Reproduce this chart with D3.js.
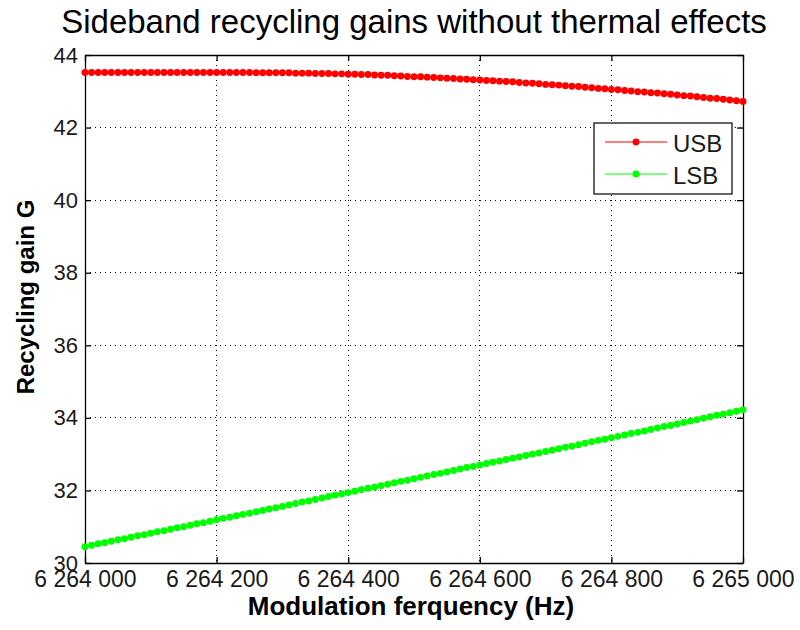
<!DOCTYPE html>
<html>
<head>
<meta charset="utf-8">
<script src="https://cdn.jsdelivr.net/npm/d3@7"></script>
<style>
  html, body { margin: 0; padding: 0; background: #fff; }
  svg { display: block; font-family: "Liberation Sans", Arial, Helvetica, sans-serif; }
</style>
</head>
<body>
<svg id="chart" width="800" height="630"></svg>
<script>
// Modulation frequency offsets (Hz above 6 264 000), 10 Hz steps
const freqBase = 6264000;
const freqStep = 10;

// Upper sideband recycling gain
const usbGain = [
  43.52, 43.52, 43.52, 43.52, 43.52, 43.52, 43.52, 43.52, 43.52, 43.52, 43.52,
  43.52, 43.52, 43.52, 43.52, 43.52, 43.52, 43.52, 43.52, 43.52, 43.52,
  43.52, 43.52, 43.52, 43.52, 43.52, 43.51, 43.51, 43.51, 43.51, 43.51,
  43.51, 43.50, 43.50, 43.50, 43.49, 43.49, 43.49, 43.48, 43.48, 43.47,
  43.47, 43.46, 43.46, 43.45, 43.44, 43.44, 43.43, 43.42, 43.41, 43.40,
  43.40, 43.39, 43.38, 43.37, 43.36, 43.35, 43.34, 43.33, 43.32, 43.31,
  43.30, 43.29, 43.28, 43.27, 43.26, 43.24, 43.23, 43.22, 43.21, 43.19,
  43.18, 43.17, 43.15, 43.14, 43.13, 43.11, 43.10, 43.08, 43.07, 43.05,
  43.04, 43.02, 43.01, 42.99, 42.98, 42.96, 42.95, 42.93, 42.92, 42.90,
  42.88, 42.87, 42.85, 42.83, 42.81, 42.80, 42.78, 42.76, 42.74, 42.72
];

// Lower sideband recycling gain
const lsbGain = [
  30.45, 30.49, 30.53, 30.56, 30.60, 30.64, 30.67, 30.71, 30.75, 30.78, 30.82,
  30.86, 30.89, 30.93, 30.97, 31.00, 31.04, 31.08, 31.11, 31.15, 31.19,
  31.23, 31.26, 31.30, 31.34, 31.37, 31.41, 31.45, 31.49, 31.52, 31.56,
  31.60, 31.64, 31.68, 31.71, 31.75, 31.79, 31.83, 31.87, 31.90, 31.94,
  31.98, 32.02, 32.06, 32.09, 32.13, 32.17, 32.21, 32.25, 32.28, 32.32,
  32.36, 32.40, 32.44, 32.47, 32.51, 32.55, 32.59, 32.63, 32.66, 32.70,
  32.74, 32.78, 32.81, 32.85, 32.89, 32.92, 32.96, 33.00, 33.03, 33.07,
  33.11, 33.15, 33.19, 33.22, 33.26, 33.30, 33.34, 33.38, 33.41, 33.45,
  33.49, 33.53, 33.57, 33.60, 33.64, 33.68, 33.72, 33.76, 33.79, 33.83,
  33.87, 33.91, 33.95, 33.99, 34.03, 34.07, 34.10, 34.14, 34.18, 34.22
];

const xTicks = [6264000, 6264200, 6264400, 6264600, 6264800, 6265000];
const yTicks = [30, 32, 34, 36, 38, 40, 42, 44];

const seriesNames = ["USB", "LSB"];
const seriesColors = ["#ff0000", "#00ff00"];

const titleText = "Sideband recycling gains without thermal effects";
const xLabel = "Modulation ferquency (Hz)";
const yLabel = "Recycling gain G";

// ---- layout ----
const svg = d3.select("#chart");
const m = { left: 85, right: 743, top: 55, bottom: 563 };

const x = d3.scaleLinear().domain([6264000, 6265000]).range([m.left, m.right]);
const y = d3.scaleLinear().domain([30, 44]).range([m.bottom, m.top]);

const fmtFreq = d => d3.format(",")(d).replace(/,/g, " ");

// dotted grid
const grid = svg.append("g").attr("stroke", "#000").attr("stroke-width", 1)
  .attr("stroke-dasharray", "1,4").attr("shape-rendering", "crispEdges");
xTicks.slice(1, -1).forEach(t => {
  grid.append("line").attr("x1", x(t)).attr("x2", x(t)).attr("y1", m.top).attr("y2", m.bottom);
});
yTicks.slice(1, -1).forEach(t => {
  grid.append("line").attr("x1", m.left).attr("x2", m.right).attr("y1", y(t)).attr("y2", y(t));
});

// axes with inward ticks on all four sides
const tickLen = 6;
const axisStyle = g => {
  g.select(".domain").attr("stroke", "#000").attr("stroke-width", 1.3);
  g.selectAll(".tick line").attr("stroke", "#000").attr("stroke-width", 1.3);
  g.selectAll(".tick text").attr("fill", "#1a1a1a").attr("font-size", 23)
    .attr("font-family", "'Liberation Sans', Arial, sans-serif");
};

svg.append("g").attr("transform", `translate(0,${m.bottom})`)
  .call(d3.axisBottom(x).tickValues(xTicks).tickFormat(fmtFreq).tickSizeInner(-tickLen).tickSizeOuter(0).tickPadding(8))
  .call(axisStyle)
  .call(g => g.selectAll(".tick text").attr("dy", "0.7em"));

svg.append("g").attr("transform", `translate(0,${m.top})`)
  .call(d3.axisTop(x).tickValues(xTicks).tickFormat("").tickSizeInner(-tickLen).tickSizeOuter(0))
  .call(axisStyle);

svg.append("g").attr("transform", `translate(${m.left},0)`)
  .call(d3.axisLeft(y).tickValues(yTicks).tickFormat(d3.format("d")).tickSizeInner(-tickLen).tickSizeOuter(0).tickPadding(7))
  .call(axisStyle)
  .call(g => g.selectAll(".tick text").attr("font-size", 22));

svg.append("g").attr("transform", `translate(${m.right},0)`)
  .call(d3.axisRight(y).tickValues(yTicks).tickFormat("").tickSizeInner(-tickLen).tickSizeOuter(0))
  .call(axisStyle);

// series: line with point markers
const seriesData = [usbGain, lsbGain];
const line = d3.line().x((d, i) => x(freqBase + i * freqStep)).y(d => y(d));
const markerPath = d3.symbol(d3.symbolCircle, 38)();

seriesData.forEach((vals, si) => {
  const g = svg.append("g");
  g.append("path").datum(vals).attr("d", line)
    .attr("fill", "none").attr("stroke", seriesColors[si]).attr("stroke-width", 1.2);
  g.selectAll("path.mk").data(vals).join("path").attr("class", "mk")
    .attr("d", markerPath)
    .attr("transform", (d, i) => `translate(${x(freqBase + i * freqStep)},${y(d)})`)
    .attr("fill", seriesColors[si]);
});

// legend
const leg = svg.append("g");
leg.append("rect").attr("x", 594).attr("y", 123).attr("width", 138).attr("height", 71)
  .attr("fill", "#fff").attr("stroke", "#000").attr("stroke-width", 1.2);
seriesNames.forEach((name, i) => {
  const ly = 142 + i * 32;
  leg.append("line").attr("x1", 605).attr("x2", 667).attr("y1", ly).attr("y2", ly)
    .attr("stroke", seriesColors[i]).attr("stroke-width", 1.2);
  leg.append("path").attr("d", markerPath)
    .attr("transform", `translate(636,${ly})`).attr("fill", seriesColors[i]);
  leg.append("text").attr("x", 673).attr("y", ly + 10).attr("font-size", 24)
    .attr("fill", "#1a1a1a").text(name);
});

// titles
svg.append("text").attr("x", 414).attr("y", 33)
  .attr("text-anchor", "middle").attr("font-size", 33).attr("fill", "#000").text(titleText);

svg.append("text").attr("x", 411).attr("y", 615)
  .attr("text-anchor", "middle").attr("font-size", 26).attr("font-weight", "bold")
  .attr("fill", "#000").text(xLabel);

svg.append("text").attr("transform", `translate(34,297) rotate(-90)`)
  .attr("text-anchor", "middle").attr("font-size", 24).attr("font-weight", "bold")
  .attr("fill", "#000").text(yLabel);
</script>
</body>
</html>
